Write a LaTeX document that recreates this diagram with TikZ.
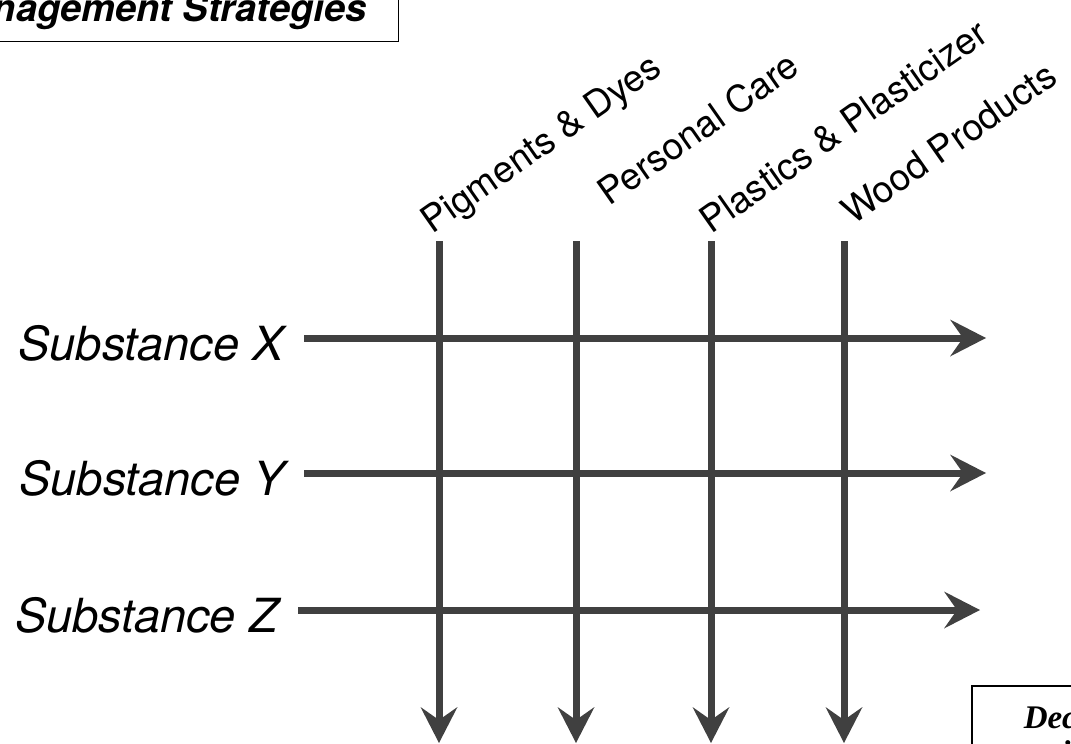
\documentclass[tikz,border=0pt]{standalone}
\usepackage{fontspec}
\setmainfont{TeX Gyre Heros}
\newfontfamily\notefont{Liberation Serif}
\usetikzlibrary{
    positioning,   % Relative positioning
    arrows.meta,   % Modern arrow tips
    calc           % Coordinate calculations
}
\definecolor{flowgray}{RGB}{64,64,64}
\tikzset{
    flow/.style={draw=flowgray, line width=7pt,
        -{Stealth[length=36pt,width=37pt,inset=13pt,line width=0pt]}},
    rowlabel/.style={font=\fontsize{47}{56}\selectfont\itshape, inner sep=0pt, anchor=base east},
    collabel/.style={font=\fontsize{37}{44}\selectfont, inner sep=0pt, anchor=base west, rotate=35},
    titlebox/.style={draw, line width=1.5pt, font=\fontsize{38}{45}\selectfont\bfseries\itshape,
        inner xsep=32pt, inner ysep=11pt, anchor=south east},
    notebox/.style={draw, line width=1.5pt, font=\fontsize{33}{35}\selectfont\notefont\bfseries\itshape,
        align=center, inner xsep=52pt, inner ysep=20pt, anchor=north west}
}
\begin{document}
\begin{tikzpicture}[x=1pt,y=-1pt]
    \useasboundingbox (0,0) rectangle (1071,744);
    % boxes cut by the frame
    \node[titlebox] (title) at (399,42) {Management Strategies};
    \node[notebox] (note) at (971,685) {Decision\\criteria};
    % substances
    \node[rowlabel] (sx) at (284,360) {Substance X};
    \node[rowlabel] (sy) at (285,495) {Substance Y};
    \node[rowlabel] (sz) at (278,632) {Substance Z};
    \coordinate (xend) at (986,338);
    \coordinate (yend) at (986,473);
    \coordinate (zend) at (980,610);
    \draw[flow] ([shift={(20pt,22pt)}]sx.base east) -- (xend);
    \draw[flow] ([shift={(19pt,22pt)}]sy.base east) -- (yend);
    \draw[flow] ([shift={(20pt,22pt)}]sz.base east) -- (zend);
    % sectors
    \node[collabel] (pig) at (432,235) {Pigments \& Dyes};
    \node[collabel] (care) at (609,207) {Personal Care};
    \node[collabel] (plast) at (711,235) {Plastics \& Plasticizer};
    \node[collabel] (wood) at (853,226) {Wood Products};
    \coordinate (pigtop) at (439,241);  \coordinate (pigend) at (439,743);
    \coordinate (caretop) at (576,241); \coordinate (careend) at (576,743);
    \coordinate (plasttop) at (711,241); \coordinate (plastend) at (711,743);
    \coordinate (woodtop) at (844,241); \coordinate (woodend) at (844,743);
    \draw[flow] (pigtop) -- (pigend);
    \draw[flow] (caretop) -- (careend);
    \draw[flow] (plasttop) -- (plastend);
    \draw[flow] (woodtop) -- (woodend);
\end{tikzpicture}
\end{document}
